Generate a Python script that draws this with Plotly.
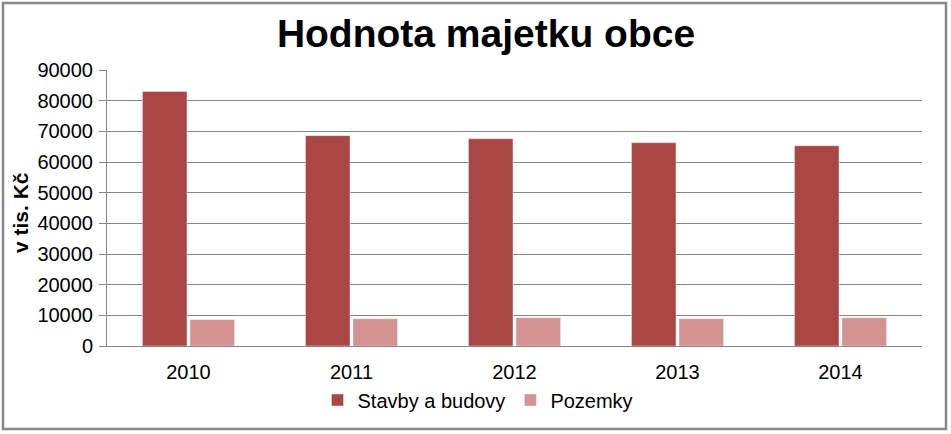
import plotly.graph_objects as go

years = ["2010", "2011", "2012", "2013", "2014"]
stavby = [83000, 68600, 67600, 66300, 65300]
pozemky = [8600, 8900, 9200, 8900, 9200]
y_ticks = [0, 10000, 20000, 30000, 40000, 50000, 60000, 70000, 80000, 90000]

W, H = 951, 434
L, R, T, B = 107, 29, 70, 88
pw, ph = W - L - R, H - T - B

def px_x(p):
    return (p - L) / pw

def px_y(p):
    return (H - B - p) / ph

font = "Liberation Sans, Arial, sans-serif"

fig = go.Figure()
fig.add_trace(go.Bar(x=years, y=stavby, name="Stavby a budovy", marker_color="#AA4643"))
fig.add_trace(go.Bar(x=years, y=pozemky, name="Pozemky", marker_color="#D49391"))

fig.update_layout(
    width=W, height=H,
    margin=dict(l=L, r=R, t=T, b=B),
    paper_bgcolor="white", plot_bgcolor="white",
    barmode="group", bargap=0.417, bargroupgap=0.063,
    font=dict(family=font, size=20, color="black"),
    title=dict(text="<b>Hodnota majetku obce</b>", x=486 / W, xanchor="center",
               y=1 - 33 / H, yanchor="middle", yref="container",
               font=dict(family=font, size=39, color="black")),
    showlegend=True,
    legend=dict(orientation="h", x=px_x(478), xanchor="center", y=px_y(400), yanchor="middle",
                font=dict(family=font, size=20, color="black"), bgcolor="rgba(0,0,0,0)",
                itemwidth=30, tracegroupgap=0),
    xaxis=dict(showgrid=False, showline=True, linecolor="#868686", linewidth=1,
               ticks="", tickfont=dict(size=20), ticklabelstandoff=8),
    yaxis=dict(range=[0, 90000], tickvals=y_ticks, ticktext=[str(v) for v in y_ticks],
               showgrid=True, gridcolor="#868686", gridwidth=1,
               showline=True, linecolor="#868686", linewidth=1,
               ticks="outside", ticklen=7, tickcolor="#868686",
               tickfont=dict(size=20), zeroline=False, ticklabelstandoff=2),
    annotations=[dict(text="<b>v tis. Kč</b>", xref="paper", yref="paper",
                      x=px_x(20), y=px_y(213), xanchor="center", yanchor="middle",
                      textangle=-90, showarrow=False,
                      font=dict(family=font, size=21, color="black"))],
    shapes=[dict(type="rect", xref="paper", yref="paper",
                 x0=px_x(3), x1=px_x(946), y0=px_y(429), y1=px_y(3),
                 line=dict(color="#888888", width=2.5), fillcolor="rgba(0,0,0,0)", layer="above")],
)

fig.write_html("out.html", config={"displayModeBar": False},
               post_script="document.body.style.margin='0';document.body.style.overflow='hidden';")
